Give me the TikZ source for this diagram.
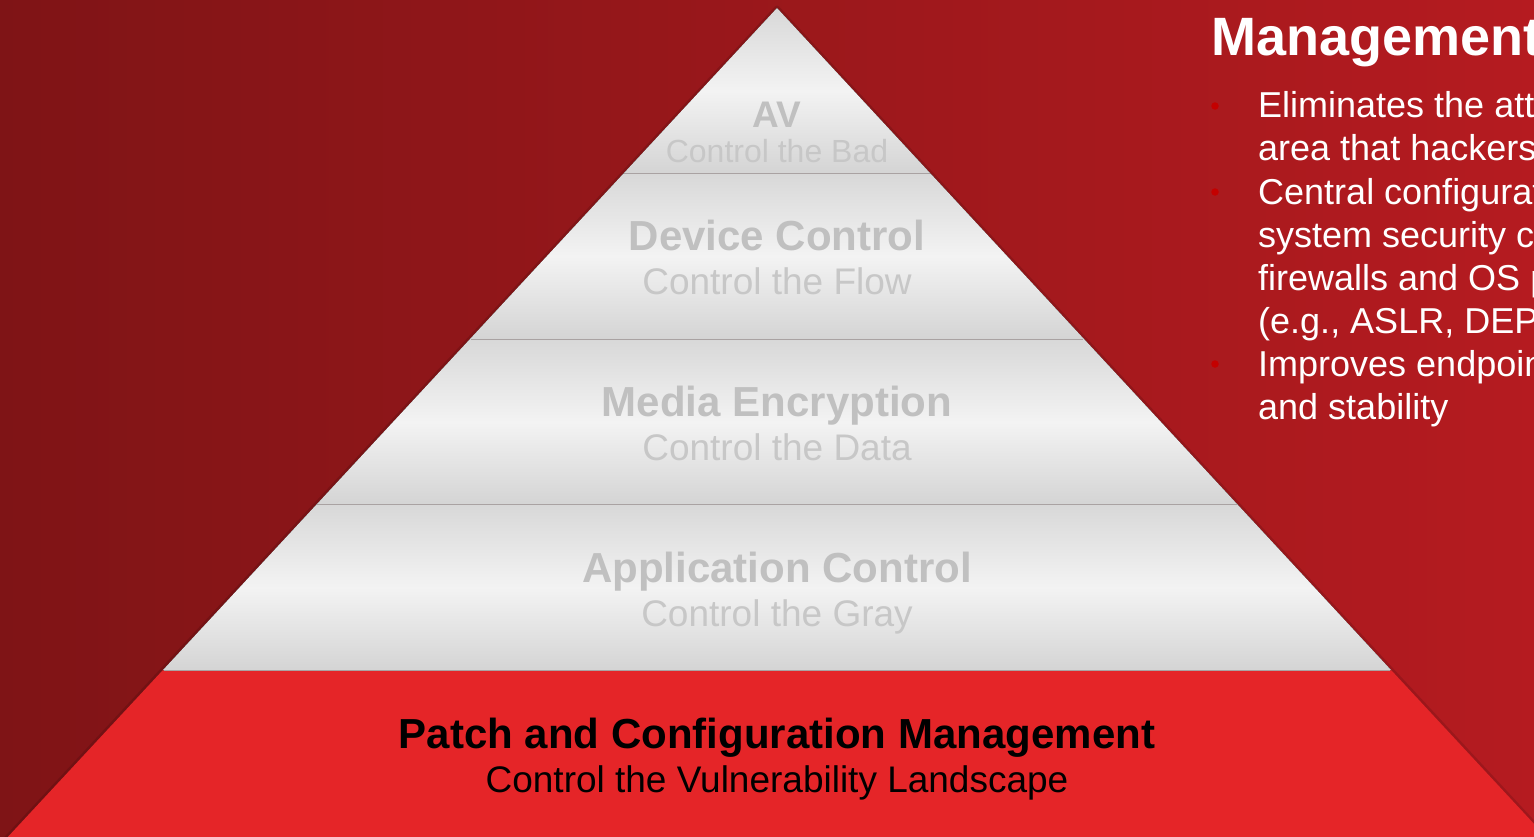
\documentclass[tikz,border=0pt]{standalone}
\usepackage{xcolor}
\usepackage{fontspec}
\setmainfont{Liberation Sans}
\usepackage{tikz}
\usetikzlibrary{positioning}
\usetikzlibrary{calc}
\definecolor{bgleft}{HTML}{7F1416}
\definecolor{bgright}{HTML}{B51B20}
\definecolor{laytop}{HTML}{D8D8D8}
\definecolor{laymid}{HTML}{F3F3F3}
\definecolor{laybot}{HTML}{D4D4D4}
\definecolor{sepgray}{HTML}{A9A2A2}
\definecolor{titlegray}{HTML}{C0C0C0}
\definecolor{subgray}{HTML}{C7C7C7}
\definecolor{patchred}{HTML}{E52528}
\definecolor{dotred}{HTML}{C40000}
\tikzset{
  lay_fill/.style = {top color=laytop, bottom color=laybot, middle color=laymid},% gray layer
  lay_sep/.style = {draw=sepgray, line width=1.3pt},
  lay_title/.style = {anchor=base, inner sep=0pt, text=titlegray,
    font=\fontsize{42}{48}\selectfont\bfseries},
  lay_sub/.style = {anchor=base, inner sep=0pt, text=subgray,
    font=\fontsize{37}{44}\selectfont},
  pat_title/.style = {lay_title, text=black},% bottom layer
  pat_sub/.style = {lay_sub, text=black},
  mgmt_head/.style = {anchor=base west, inner sep=0pt, text=white,
    font=\fontsize{54}{62}\selectfont\bfseries},
  blt_text/.style = {anchor=base west, inner sep=0pt, text=white, align=left,
    font=\fontsize{36}{43}\selectfont},% base = last line
  blt_dot/.style = {circle, fill=dotred, inner sep=0pt, minimum size=7.5pt}
}

\begin{document}
\begin{tikzpicture}[x=1pt,y=-1pt]
\useasboundingbox (0,0) rectangle (1534,836);
\clip (0,0) rectangle (1534,836);
\fill[left color=bgleft, right color=bgright] (-2,-2) rectangle (1536,840);

% shadow along the pyramid
\draw[black, opacity=.12, line width=5pt, line join=round] (5,840) -- (777,8) -- (1549,840);

% gray layers
\foreach \k in {0,...,3}{
  \pgfmathsetmacro{\ya}{8+165.6*\k}
  \pgfmathsetmacro{\yb}{8+165.6*(\k+1)}
  \pgfmathsetmacro{\ha}{153.6*\k}
  \pgfmathsetmacro{\hb}{153.6*(\k+1)}
  \fill[lay_fill] ({777-\ha},\ya) -- ({777+\ha},\ya) -- ({777+\hb},\yb) -- ({777-\hb},\yb) -- cycle;
}
% red layer
\fill[patchred] (162.6,670.4) -- (1391.4,670.4) -- (1549,840) -- (5,840) -- cycle;
\foreach \k in {1,...,4}{
  \pgfmathsetmacro{\ya}{8+165.6*\k}
  \pgfmathsetmacro{\ha}{153.6*\k}
  \draw[lay_sep] ({777-\ha+1},\ya) -- ({777+\ha-1},\ya);
}

% layer texts
\node[lay_title, font=\fontsize{37}{44}\selectfont\bfseries] (av) at (777,127.7) {AV};
\node[lay_sub, font=\fontsize{32}{38}\selectfont] (av_sub) at ([yshift=-35pt]av.base) {Control the Bad};
\foreach \nm/\by/\ttl/\sb in {device/250/Device Control/Control the Flow,
    media/416.7/Media Encryption/Control the Data,
    app/582.7/Application Control/Control the Gray}{
  \node[lay_title] (\nm) at (777,\by) {\ttl};
  \node[lay_sub] (\nm_sub) at ([yshift=-44pt]\nm.base) {\sb};
}
\node[pat_title] (patch) at (777,748) {Patch and Configuration Management};
\node[pat_sub] (patch_sub) at ([yshift=-44pt]patch.base) {Control the Vulnerability Landscape};

% right panel
\node[mgmt_head] (mgmt) at (1211,55) {Management};
\node[blt_dot] (dot1) at (1215,106) {};
\node[blt_dot] (dot2) at (1215,192) {};
\node[blt_dot] (dot3) at (1215,364) {};
\node[blt_text] (blt1) at (1258,160.5) {Eliminates the att\\area that hackers};
\node[blt_text] (blt2) at (1258,333.5) {Central configurat\\system security c\\firewalls and OS p\\(e.g., ASLR, DEP};
\node[blt_text] (blt3) at (1258,419.5) {Improves endpoin\\and stability};
\end{tikzpicture}
\end{document}
